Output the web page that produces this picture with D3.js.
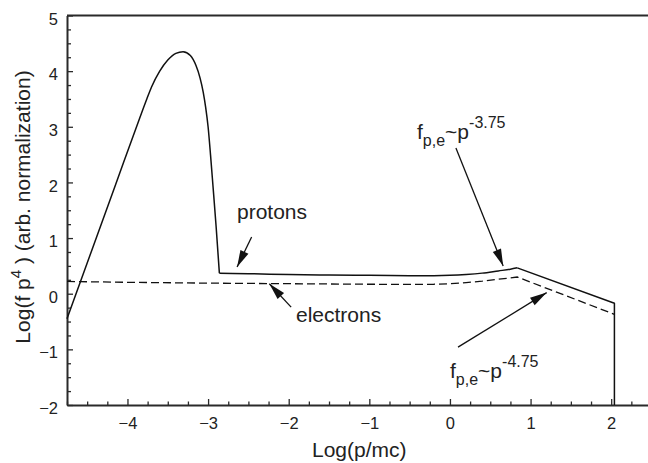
<!DOCTYPE html>
<html>
<head>
<meta charset="utf-8">
<script src="https://cdn.jsdelivr.net/npm/d3@7"></script>
<style>
  body { margin: 0; background: #fff; }
  text { font-family: "Liberation Sans", Arial, sans-serif; fill: #222; }
</style>
</head>
<body>
<svg id="chart" width="648" height="463"></svg>
<script>
// protons (solid), Log(p/mc) vs Log(f p^4)
var protonX = [-4.75, -4.45, -4.15, -3.85, -3.76, -3.7, -3.6, -3.5, -3.4, -3.31,
  -3.22, -3.15, -3.1, -3.06, -3.03, -3.0, -2.97, -2.94, -2.9, -2.86,
  -2.5, -2.0, -1.5, -1.0, -0.5, -0.2, 0.0, 0.2, 0.4, 0.6, 0.75, 0.835, 2.04, 2.04];
var protonY = [-0.45, 0.75, 1.95, 3.15, 3.5, 3.72, 4.0, 4.2, 4.32, 4.35,
  4.28, 4.1, 3.88, 3.62, 3.35, 3.0, 2.5, 1.95, 1.2, 0.37,
  0.36, 0.345, 0.335, 0.33, 0.325, 0.325, 0.33, 0.345, 0.37, 0.41, 0.44, 0.465, -0.17, -2];
// x positions where the proton curve has a sharp corner
var protonCorners = [-2.86, 0.835];

// electrons (dashed)
var electronX = [-4.75, -4.0, -3.0, -2.0, -1.0, -0.5, -0.2, 0.0, 0.2, 0.4, 0.6, 0.75, 0.835, 2.04];
var electronY = [0.22, 0.205, 0.19, 0.18, 0.17, 0.168, 0.17, 0.18, 0.2, 0.225, 0.26, 0.285, 0.3, -0.37];

var xTicks = [-4, -3, -2, -1, 0, 1, 2];
var yTicks = [-2, -1, 0, 1, 2, 3, 4, 5];

var svg = d3.select("#chart");

var x = d3.scaleLinear().domain([-4.75, 2.5]).range([67, 651.5]);
var y = d3.scaleLinear().domain([-2, 5]).range([405, 15.5]);

var axisColor = "#2a2a2a";

// minor ticks every 0.25
var xMinor = d3.range(-4.75, 2.51, 0.25).filter(function(d) { return Math.abs(d - Math.round(d)) > 0.01; });
var yMinor = d3.range(-2, 5.01, 0.25).filter(function(d) { return Math.abs(d - Math.round(d)) > 0.01; });

var gx = svg.append("g")
  .attr("transform", "translate(0," + y(-2) + ")")
  .call(d3.axisBottom(x).tickValues(xTicks).tickSizeInner(-6).tickSizeOuter(0).tickPadding(12)
    .tickFormat(d3.format("d")));
gx.append("g").call(d3.axisBottom(x).tickValues(xMinor).tickSizeInner(-3.5).tickSizeOuter(0).tickFormat(""))
  .select(".domain").remove();

var gy = svg.append("g")
  .attr("transform", "translate(" + x(-4.75) + ",0)")
  .call(d3.axisLeft(y).tickValues(yTicks).tickSizeInner(-6).tickSizeOuter(0).tickPadding(9)
    .tickFormat(d3.format("d")));
gy.append("g").call(d3.axisLeft(y).tickValues(yMinor).tickSizeInner(-4).tickSizeOuter(0).tickFormat(""))
  .select(".domain").remove();

svg.selectAll(".domain").attr("stroke", axisColor).attr("stroke-width", 2);
svg.selectAll(".tick line").attr("stroke", axisColor).attr("stroke-width", 1.3);
svg.selectAll(".tick text").attr("font-size", 16.5).attr("fill", "#222")
  .attr("font-family", "Liberation Sans, Arial, sans-serif");
gy.selectAll(".tick text").attr("dy", "0.52em");

// top frame
svg.append("line")
  .attr("x1", x(-4.75)).attr("x2", x(2.5))
  .attr("y1", y(5)).attr("y2", y(5))
  .attr("stroke", axisColor).attr("stroke-width", 2);

// split protons at the corners: smooth pieces between, straight after the last corner
var protons = d3.zip(protonX, protonY);
var pieces = [];
var start = 0;
protonCorners.forEach(function(c) {
  var end = protons.findIndex(function(d) { return d[0] === c; });
  pieces.push({ pts: protons.slice(start, end + 1), smooth: true });
  start = end;
});
pieces.push({ pts: protons.slice(start), smooth: false });

var smoothLine = d3.line()
  .x(function(d) { return x(d[0]); })
  .y(function(d) { return y(d[1]); })
  .curve(d3.curveMonotoneX);
var line = d3.line()
  .x(function(d) { return x(d[0]); })
  .y(function(d) { return y(d[1]); });

svg.selectAll(".proton").data(pieces).enter().append("path")
  .attr("class", "proton")
  .attr("d", function(p) { return p.smooth ? smoothLine(p.pts) : line(p.pts); })
  .attr("fill", "none").attr("stroke", "#111").attr("stroke-width", 1.5)
  .attr("stroke-linejoin", "round");

svg.append("path")
  .datum(d3.zip(electronX, electronY))
  .attr("d", line)
  .attr("fill", "none").attr("stroke", "#111").attr("stroke-width", 1.3)
  .attr("stroke-dasharray", "8,4");

// axis titles
svg.append("text")
  .attr("x", (x(-4.75) + x(2.5)) / 2).attr("y", 457)
  .attr("text-anchor", "middle").attr("font-size", 21)
  .text("Log(p/mc)");

var yt = svg.append("text")
  .attr("transform", "translate(30," + 207 + ") rotate(-90)")
  .attr("text-anchor", "middle").attr("font-size", 21);
yt.append("tspan").text("Log(f p");
yt.append("tspan").attr("font-size", 15).attr("dy", -9).text("4");
yt.append("tspan").attr("dy", 9).text(" )  (arb. normalization)");

// arrows
svg.append("defs").append("marker")
  .attr("id", "head").attr("markerUnits", "userSpaceOnUse")
  .attr("markerWidth", 20).attr("markerHeight", 20)
  .attr("viewBox", "-17 -8 19 16").attr("refX", 0).attr("refY", 0)
  .attr("orient", "auto")
  .append("path").attr("d", "M-16,-4.2L0,0L-16,4.2Z").attr("fill", "#111");

var arrows = [
  { from: [0.074, 2.62], to: [0.66, 0.50] },
  { from: [-2.46, 1.02], to: [-2.64, 0.48] },
  { from: [-1.97, -0.24], to: [-2.24, 0.18] },
  { from: [0.10, -0.96], to: [1.2, 0.02] }
];
svg.selectAll(".arrow").data(arrows).enter().append("line")
  .attr("class", "arrow")
  .attr("x1", function(d) { return x(d.from[0]); })
  .attr("y1", function(d) { return y(d.from[1]); })
  .attr("x2", function(d) { return x(d.to[0]); })
  .attr("y2", function(d) { return y(d.to[1]); })
  .attr("stroke", "#111").attr("stroke-width", 1.3)
  .attr("marker-end", "url(#head)");

// labels
svg.append("text").attr("x", 237).attr("y", 219).attr("font-size", 21).text("protons");
svg.append("text").attr("x", 296).attr("y", 322).attr("font-size", 21).text("electrons");

function powerLabel(px, py, exp) {
  var t = svg.append("text").attr("x", px).attr("y", py).attr("font-size", 21);
  t.append("tspan").text("f");
  t.append("tspan").attr("font-size", 16).attr("dy", 7).text("p,e");
  t.append("tspan").attr("dy", -7).text("~p");
  t.append("tspan").attr("font-size", 16).attr("dy", -11).text(exp);
}
powerLabel(417, 139, "-3.75");
powerLabel(450, 378, "-4.75");
</script>
</body>
</html>
